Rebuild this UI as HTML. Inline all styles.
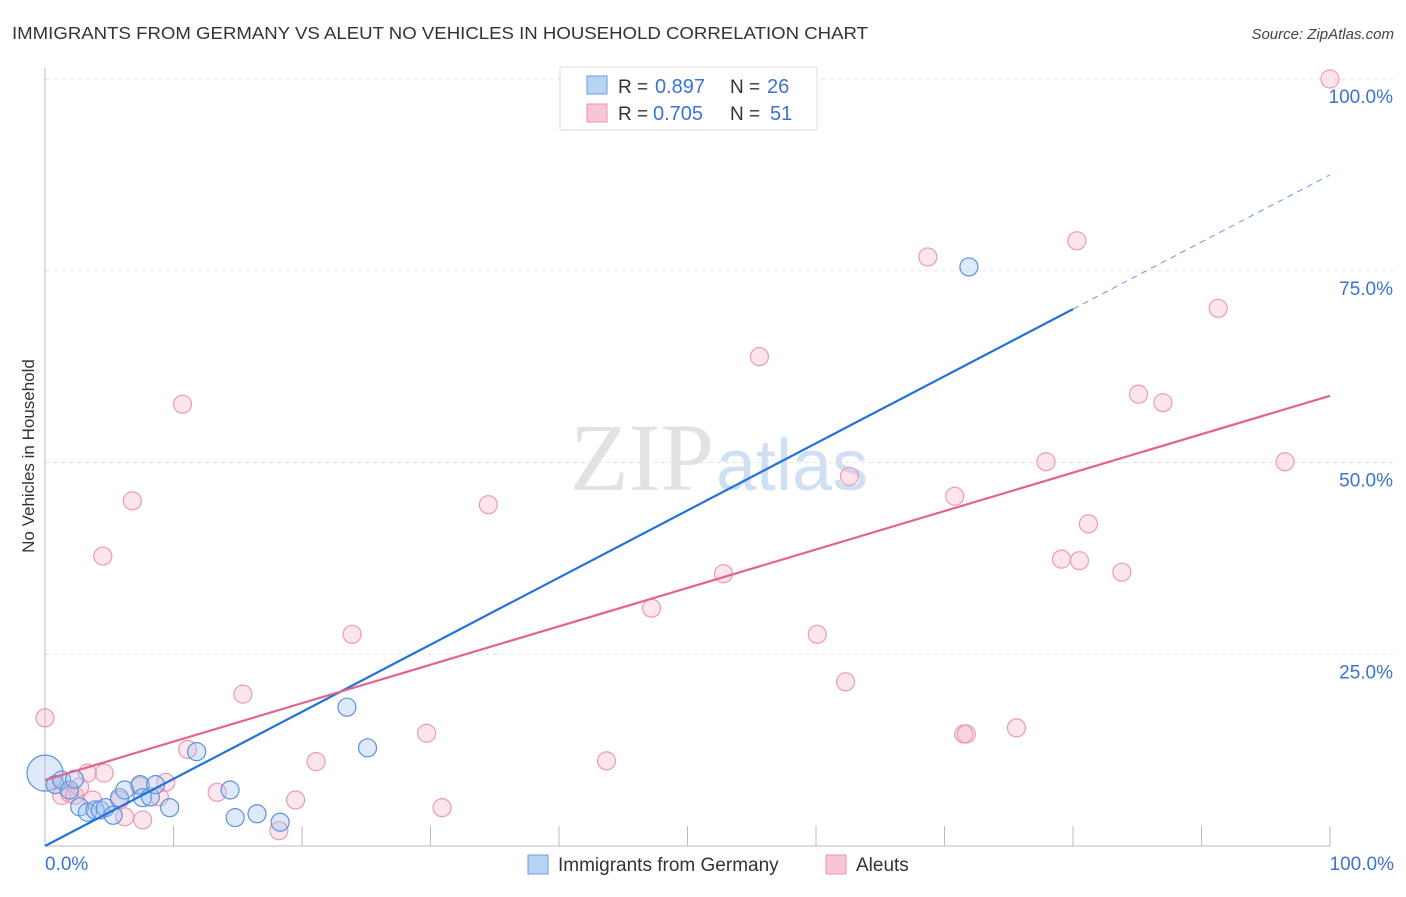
<!DOCTYPE html>
<html><head><meta charset="utf-8"><style>
body{margin:0;background:#fff;font-family:"Liberation Sans",sans-serif;}
</style></head><body>
<svg id="chart" width="1406" height="892" xmlns="http://www.w3.org/2000/svg" font-family="Liberation Sans, sans-serif">
<text x="12" y="39" font-size="17.5" fill="#333" textLength="856" lengthAdjust="spacingAndGlyphs">IMMIGRANTS FROM GERMANY VS ALEUT NO VEHICLES IN HOUSEHOLD CORRELATION CHART</text>
<text x="1394" y="39" font-size="15" fill="#444" text-anchor="end" font-style="italic">Source: ZipAtlas.com</text>
<text x="714" y="490" font-size="96" text-anchor="end" fill="#e2e2e2" font-family="Liberation Serif, serif">ZIP</text>
<text x="716" y="490" font-size="72" fill="#cfe0f3">atlas</text>
<text transform="translate(34,456) rotate(-90)" font-size="17" fill="#333" text-anchor="middle">No Vehicles in Household</text>
<g id="grid"></g><g id="axes"></g><g id="marks"></g>
<g>
<rect x="560" y="67" width="257" height="63" fill="#fff" stroke="#ddd"/>
<rect x="587" y="76" width="20" height="18" fill="#b9d3f4" stroke="#6a9de0"/>
<text x="618" y="93" font-size="19" fill="#333">R = </text><text x="655" y="93" font-size="20" fill="#3b73d4">0.897</text>
<text x="730" y="93" font-size="19" fill="#333">N = </text><text x="767" y="93" font-size="20" fill="#3b73d4">26</text>
<rect x="587" y="104" width="20" height="18" fill="#f8c5d5" stroke="#e892b0"/>
<text x="618" y="120" font-size="19" fill="#333">R = </text><text x="653" y="120" font-size="20" fill="#3b73d4">0.705</text>
<text x="730" y="120" font-size="19" fill="#333">N = </text><text x="770" y="120" font-size="20" fill="#3b73d4">51</text>
</g>
<g>
<rect x="528" y="855" width="20" height="19" fill="#b9d3f4" stroke="#6a9de0"/>
<text x="558" y="871" font-size="19" fill="#333">Immigrants from Germany</text>
<rect x="826" y="855" width="20" height="19" fill="#f8c5d5" stroke="#e892b0"/>
<text x="856" y="871" font-size="19" fill="#333">Aleuts</text>
</g>
</svg>
<script>
const blueX=[0,0.8,1.3,1.9,2.3,2.7,3.3,3.9,4.3,4.7,5.3,5.8,6.2,7.4,7.6,8.2,8.6,9.7,11.8,14.4,14.8,16.5,18.3,23.5,25.1,71.9];
const blueY=[9.5,8.0,8.6,7.3,8.7,5.1,4.4,4.7,4.7,5.0,4.0,6.3,7.3,8.0,6.3,6.4,8.0,5.0,12.3,7.3,3.7,4.2,3.1,18.1,12.8,75.5];
const pinkX=[0,0.8,1.3,1.9,2.3,2.7,3.3,3.7,4.6,4.5,5.8,6.2,6.8,7.4,7.6,8.9,9.4,10.7,11.1,13.4,15.4,18.2,19.5,21.1,23.9,29.7,30.9,34.5,43.7,47.2,52.8,55.6,60.1,62.3,62.6,68.7,70.8,71.5,71.7,75.6,77.9,79.1,80.3,80.5,81.2,83.8,85.1,87.0,91.3,96.5,100];
const pinkY=[16.7,8.0,6.6,6.9,6.6,7.7,9.5,6.0,9.5,37.8,6.0,3.8,45.0,7.8,3.4,6.4,8.3,57.6,12.6,7.0,19.8,2.0,6.0,11.0,27.6,14.7,5.0,44.5,11.1,31.0,35.5,63.8,27.6,21.4,48.2,76.8,45.6,14.6,14.6,15.4,50.1,37.4,78.9,37.2,42.0,35.7,58.9,57.8,70.1,50.1,100];
const blueTrend=[0,0.875];
const pinkTrend=[8.6,0.501];
const yTicks=[25,50,75,100];
const yTickLabels=["25.0%","50.0%","75.0%","100.0%"];
const NS="http://www.w3.org/2000/svg";
const X=v=>45+v*12.85, Y=v=>846-v*7.67;
function mk(t,a,p){const e=document.createElementNS(NS,t);for(const k in a)e.setAttribute(k,a[k]);p.appendChild(e);return e;}
const grid=document.getElementById('grid'),axes=document.getElementById('axes'),marks=document.getElementById('marks');
yTicks.forEach((t,i)=>{
 const l=mk('line',{x1:45,x2:1395,y1:Y(t),y2:Y(t),stroke:'#e3e3e3','stroke-dasharray':'4,4'},grid);
 
 
 const tx=mk('text',{x:1393,y:Y(t)+24,'font-size':19,fill:'#3b73d4','text-anchor':'end'},axes);
 tx.textContent=yTickLabels[i];
 
 
});
const ya=mk('line',{x1:45,x2:45,y1:68,y2:846,stroke:'#bbb'},axes);


const xa=mk('line',{x1:45,x2:1330,y1:846,y2:846,stroke:'#bbb'},axes);


for(let i=1;i<=10;i++){const t=mk('line',{x1:X(i*10),x2:X(i*10),y1:826,y2:846,stroke:'#bbb'},axes);
 
 }
[[0,'0.0%','start',45],[100,'100.0%','end',1394]].forEach(d=>{const t=mk('text',{x:d[3],y:870,'font-size':19,fill:'#3b73d4','text-anchor':d[2]},axes);t.textContent=d[1];
 
 });
pinkX.forEach((x,i)=>{const c=mk('circle',{cx:X(x),cy:Y(pinkY[i]),r:9,fill:'rgba(245,170,195,0.3)',stroke:'#eb9ab6','stroke-width':1.2},marks);
 
 });
blueX.forEach((x,i)=>{const c=mk('circle',{cx:X(x),cy:Y(blueY[i]),r:i===0?18:9,fill:'rgba(160,196,240,0.35)',stroke:'#5b93dc','stroke-width':1.2},marks);
 
 });
const bl=mk('line',{x1:X(0),y1:Y(blueTrend[0]),x2:X(80),y2:Y(blueTrend[0]+80*blueTrend[1]),stroke:'#2272d8','stroke-width':2.2},marks);


const bd=mk('line',{x1:X(80),y1:Y(blueTrend[0]+80*blueTrend[1]),x2:X(100),y2:Y(blueTrend[0]+100*blueTrend[1]),stroke:'#7aa6e6','stroke-width':1.2,'stroke-dasharray':'6,5'},marks);


const pl=mk('line',{x1:X(0),y1:Y(pinkTrend[0]),x2:X(100),y2:Y(pinkTrend[0]+100*pinkTrend[1]),stroke:'#e0648f','stroke-width':2.2},marks);


</script>
</body></html>
